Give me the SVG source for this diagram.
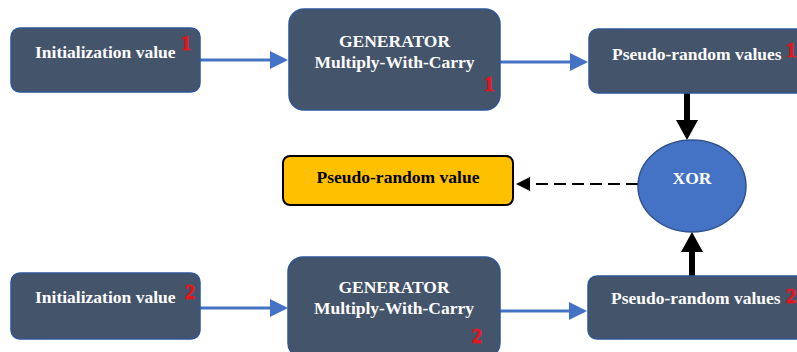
<svg xmlns="http://www.w3.org/2000/svg" width="797" height="352" viewBox="0 0 797 352">
  <defs>
    <style>
      .node { fill: #44546A; stroke: #2F5597; stroke-width: 1.5; }
      .lbl { font-family: "Liberation Serif", "DejaVu Serif", serif; font-weight: bold; font-size: 17.5px; fill: #FFFFFF; }
      .num { font-family: "Liberation Serif", "DejaVu Serif", serif; font-weight: bold; font-size: 20px; fill: #E8141C; stroke: #E8141C; stroke-width: 0.7; }
      .blue { stroke: #4472C4; stroke-width: 3; fill: none; }
      .thick { stroke: #000000; stroke-width: 6; fill: none; }
      .dash { stroke: #000000; stroke-width: 2; fill: none; stroke-dasharray: 12 6; }
    </style>
    <marker id="blueHead" markerWidth="6" markerHeight="6" refX="5" refY="3" orient="auto" markerUnits="strokeWidth">
      <path d="M0,0 L6,3 L0,6 Z" fill="#4472C4"/>
    </marker>
    <marker id="dashHead" markerWidth="7" markerHeight="7" refX="6" refY="3.5" orient="auto" markerUnits="strokeWidth">
      <path d="M0,0 L7,3.5 L0,7 Z" fill="#000000"/>
    </marker>
  </defs>

  <!-- connectors -->
  <g id="connectors">
    <line class="blue" x1="200" y1="60" x2="285" y2="60" marker-end="url(#blueHead)"/>
    <line class="blue" x1="500" y1="62" x2="585" y2="62" marker-end="url(#blueHead)"/>
    <line class="blue" x1="200" y1="308" x2="285" y2="308" marker-end="url(#blueHead)"/>
    <line class="blue" x1="500" y1="311" x2="584" y2="311" marker-end="url(#blueHead)"/>
    <!-- thick arrows into XOR -->
    <line class="thick" x1="687" y1="93" x2="687" y2="122"/>
    <path d="M676,120 L698,120 L687,140 Z" fill="#000000"/>
    <line class="thick" x1="692" y1="277" x2="692" y2="250"/>
    <path d="M681,252 L703,252 L692,232 Z" fill="#000000"/>
    <!-- dashed output -->
    <line class="dash" x1="638" y1="184" x2="518" y2="184" marker-end="url(#dashHead)"/>
  </g>

  <g id="init1">
    <rect class="node" x="11" y="28" width="189" height="64" rx="9"/>
    <text class="lbl" x="35" y="58">Initialization value</text>
    <text class="num" x="181" y="50">1</text>
  </g>

  <g id="gen1">
    <rect class="node" x="289" y="9" width="211" height="101" rx="15"/>
    <text class="lbl" x="394.5" y="47" text-anchor="middle">GENERATOR</text>
    <text class="lbl" x="394.5" y="68" text-anchor="middle">Multiply-With-Carry</text>
    <text class="num" x="484" y="91">1</text>
  </g>

  <g id="prv1">
    <rect class="node" x="589" y="29" width="230" height="64" rx="9"/>
    <text class="lbl" x="612" y="60">Pseudo-random values</text>
    <text class="num" x="786" y="57">1</text>
  </g>

  <g id="xor">
    <ellipse cx="692" cy="186" rx="54" ry="46" fill="#4472C4" stroke="#2F528F" stroke-width="1.5"/>
    <text class="lbl" x="692" y="184" text-anchor="middle">XOR</text>
  </g>

  <g id="output">
    <rect x="283" y="156" width="230" height="49" rx="7" fill="#FFC000" stroke="#000000" stroke-width="2"/>
    <text class="lbl" x="398" y="183" text-anchor="middle" style="fill:#000000">Pseudo-random value</text>
  </g>

  <g id="init2">
    <rect class="node" x="11" y="273" width="189" height="66" rx="9"/>
    <text class="lbl" x="35" y="303">Initialization value</text>
    <text class="num" x="185" y="299">2</text>
  </g>

  <g id="gen2">
    <rect class="node" x="288" y="257" width="212" height="101" rx="15"/>
    <text class="lbl" x="394" y="293" text-anchor="middle">GENERATOR</text>
    <text class="lbl" x="394" y="314" text-anchor="middle">Multiply-With-Carry</text>
    <text class="num" x="472" y="343">2</text>
  </g>

  <g id="prv2">
    <rect class="node" x="588" y="276" width="230" height="63" rx="9"/>
    <text class="lbl" x="611" y="304">Pseudo-random values</text>
    <text class="num" x="786" y="303">2</text>
  </g>
</svg>
